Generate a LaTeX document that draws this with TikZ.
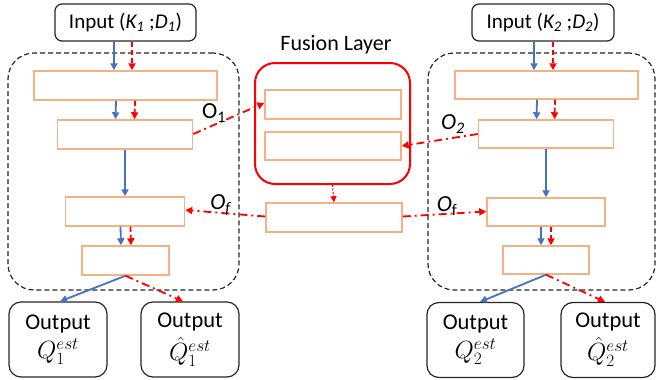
\documentclass[tikz,border=0pt]{standalone}
\usepackage{fontspec}
\setmainfont{Carlito}
\usetikzlibrary{arrows.meta}
\definecolor{myblue}{HTML}{4472C4}
\definecolor{myred}{HTML}{FF0000}
\definecolor{myorange}{HTML}{F4B183}
\newcommand{\bigmath}[1]{{\fontsize{25}{27}\selectfont$#1$}}
\tikzset{
  layerbox/.style={draw=myorange, line width=1.5pt, minimum height=29pt, inner sep=0pt, fill=white},
  iobox/.style={draw=black!85, line width=1.2pt, rounded corners=7pt, inner sep=0pt, align=center, font=\fontsize{21}{23}\selectfont},
  outbox/.style={iobox, minimum height=75pt, rounded corners=12pt, font=\fontsize{22.5}{24}\selectfont},
  container/.style={draw=black!85, line width=1.2pt, dash pattern=on 5pt off 3pt, rounded corners=26pt},
  fusionbox/.style={draw=myred, line width=2pt, rounded corners=20pt},
  bluearrow/.style={draw=myblue, line width=1.8pt, -{Triangle[width=7pt,length=7pt]}},
  reddash/.style={draw=myred, line width=1.8pt, dash pattern=on 5pt off 3pt, -{Triangle[width=7pt,length=7pt]}},
  reddashdot/.style={draw=myred, line width=1.8pt, dash pattern=on 8pt off 4pt on 2pt off 4pt, -{Triangle[width=7pt,length=7pt]}},
  reddot/.style={draw=myred, line width=1pt, dash pattern=on 2pt off 1.5pt, -{Triangle[width=6pt,length=6pt]}},
  olabel/.style={font=\fontsize{23}{25}\selectfont, inner sep=0pt},
}
\begin{document}
\begin{tikzpicture}[x=1pt,y=-1pt]
\useasboundingbox (0,0) rectangle (657,380);
% containers
\node[container, minimum width=231pt, minimum height=237pt, inner sep=0pt] (c1) at (123.5,171.5) {};
\node[container, minimum width=227pt, minimum height=237pt, inner sep=0pt] (c2) at (541.5,171.5) {};
% fusion
\node[fusionbox, minimum width=155pt, minimum height=121pt, inner sep=0pt] (fus) at (332.5,123.5) {};
\node[font=\fontsize{22}{24}\selectfont, inner sep=0pt] (fuslbl) at (336,45) {Fusion Layer};
\node[layerbox, minimum width=136pt] (F1) at (333,104.5) {};
\node[layerbox, minimum width=136pt, minimum height=28pt] (F2) at (333,146) {};
\node[layerbox, minimum width=136pt] (Ff) at (334,217.5) {};
% left column
\node[iobox, minimum width=141pt, minimum height=37pt] (in1) at (125.5,22.5) {Input (\textit{K\textsubscript{1}} ;\textit{D\textsubscript{1}})};
\node[layerbox, minimum width=183pt] (A1) at (125.5,85.5) {};
\node[layerbox, minimum width=135pt] (A2) at (125,134.5) {};
\node[layerbox, minimum width=119pt] (A3) at (125,211.5) {};
\node[layerbox, minimum width=87pt] (A4) at (125.5,260.5) {};
\node[outbox, minimum width=98pt] (Q1) at (58,339.5) {Output\\[5pt]\bigmath{Q_1^{est}}};
\node[outbox, minimum width=98pt] (Qh1) at (190,339.5) {Output\\[5pt]\bigmath{\hat{Q}_1^{est}}};
% right column
\node[iobox, minimum width=142pt, minimum height=37pt] (in2) at (543,22.5) {Input (\textit{K\textsubscript{2}} ;\textit{D\textsubscript{2}})};
\node[layerbox, minimum width=183pt, minimum height=28pt] (B1) at (546.5,85) {};
\node[layerbox, minimum width=135pt, minimum height=28pt] (B2) at (546,134) {};
\node[layerbox, minimum width=118pt, minimum height=28pt] (B3) at (546,212) {};
\node[layerbox, minimum width=86pt, minimum height=28pt] (B4) at (546,260) {};
\node[outbox, minimum width=97pt] (Q2) at (475.5,340) {Output\\[5pt]\bigmath{Q_2^{est}}};
\node[outbox, minimum width=94pt] (Qh2) at (608,340) {Output\\[5pt]\bigmath{\hat{Q}_2^{est}}};
% left arrows
\draw[bluearrow] ([xshift=-11.5pt]in1.south) -- ([xshift=-11.5pt]A1.north);
\draw[reddash] ([xshift=6.5pt]in1.south) -- ([xshift=6.5pt]A1.north);
\draw[bluearrow] ([xshift=-9.5pt]A1.south) -- ([xshift=-9.5pt]A2.north);
\draw[reddash] ([xshift=9.5pt]A1.south) -- ([xshift=9.5pt]A2.north);
\draw[bluearrow] (A2.south) -- (A3.north);
\draw[bluearrow] ([xshift=-4.5pt]A3.south) -- ([xshift=-4.5pt]A4.north);
\draw[reddash] ([xshift=5.5pt]A3.south) -- ([xshift=5.5pt]A4.north);
\draw[bluearrow] (A4.south) -- ([xshift=2pt]Q1.north);
\draw[reddashdot] (A4.south) -- ([xshift=-7pt]Qh1.north);
% right arrows
\draw[bluearrow] ([xshift=-9pt]in2.south) -- ([xshift=-12.5pt]B1.north);
\draw[reddash] ([xshift=10pt]in2.south) -- ([xshift=6.5pt]B1.north);
\draw[bluearrow] ([xshift=-9.5pt]B1.south) -- ([xshift=-9.5pt]B2.north);
\draw[reddash] ([xshift=8.5pt]B1.south) -- ([xshift=8.5pt]B2.north);
\draw[bluearrow] (B2.south) -- (B3.north);
\draw[bluearrow] ([xshift=-5pt]B3.south) -- ([xshift=-5pt]B4.north);
\draw[reddash] ([xshift=5pt]B3.south) -- ([xshift=5pt]B4.north);
\draw[bluearrow] (B4.south) -- ([xshift=4.5pt]Q2.north);
\draw[reddashdot] (B4.south) -- ([xshift=-3pt]Qh2.north);
% fusion connections
\draw[reddashdot] ([yshift=0.5pt]A2.east) -- ([yshift=1.5pt]F1.west);
\draw[reddashdot] ([yshift=0pt]B2.west) -- ([yshift=0pt]F2.east);
\draw[reddot] (fus.south) -- (Ff.north);
\draw[reddashdot] ([yshift=1pt]Ff.west) -- ([yshift=1.5pt]A3.east);
\draw[reddashdot] ([yshift=1pt]Ff.east) -- ([yshift=0.5pt]B3.west);
% labels
\node[olabel] (o1) at (214,113) {O\textsubscript{1}};
\node[olabel] (o2) at (453,124) {\textit{O}\textsubscript{\textit{2}}};
\node[olabel] (of1) at (221,205) {\textit{O}\textsubscript{\textit{f}}};
\node[olabel] (of2) at (447,206) {\textit{O}\textsubscript{f}};
\end{tikzpicture}
\end{document}
